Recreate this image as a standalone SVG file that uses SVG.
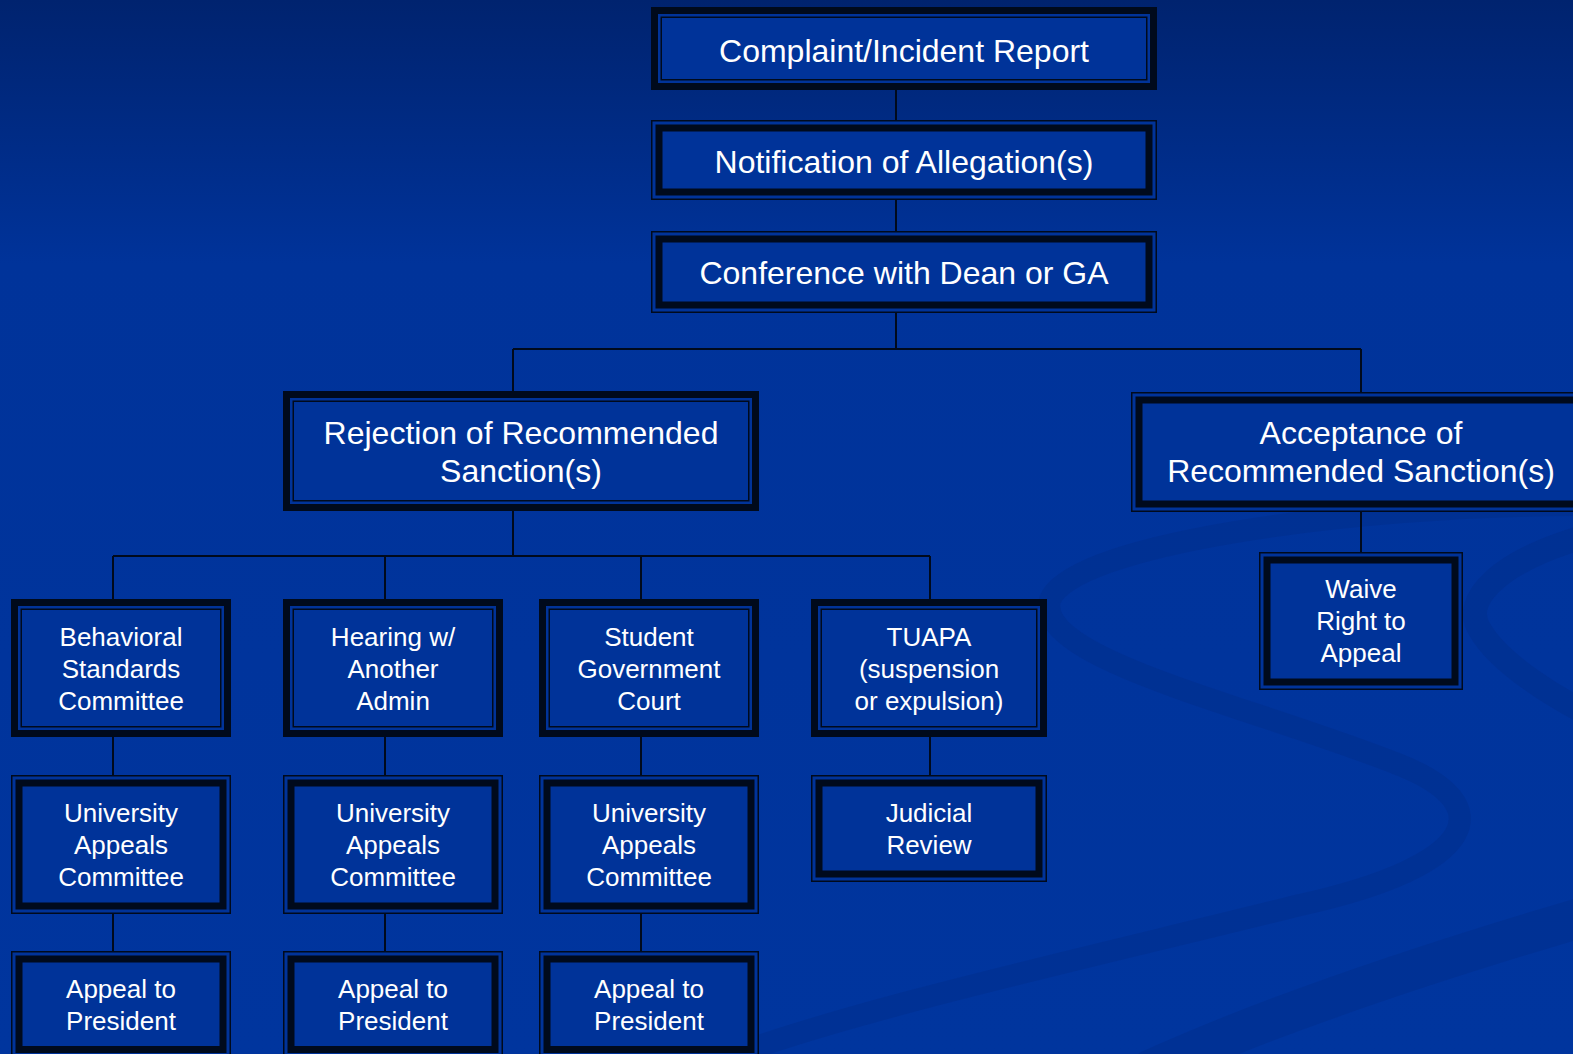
<svg xmlns="http://www.w3.org/2000/svg" width="1573" height="1054" viewBox="0 0 1573 1054">
<defs>
<linearGradient id="bg" x1="0" y1="0" x2="0" y2="1054" gradientUnits="userSpaceOnUse">
<stop offset="0" stop-color="#00236f"/>
<stop offset="0.25" stop-color="#00339a"/>
<stop offset="1" stop-color="#00359e"/>
</linearGradient>
<style>
.a1{fill:#003399;stroke:#000a1c;stroke-width:7}
.a2{fill:none;stroke:#000a1c;stroke-width:1.5}
.b1{fill:#003399;stroke:#000a1c;stroke-width:1.5}
.b2{fill:none;stroke:#000a1c;stroke-width:7}
.t{font-family:"Liberation Sans",Arial,sans-serif;fill:#ffffff;text-anchor:middle}
.big{font-size:32px}
.sm{font-size:26px}
.c{fill:none;stroke:#000a1c;stroke-width:2}
.sw{fill:none;stroke:#002c88;stroke-linecap:round;opacity:0.4}
</style>
</defs>
<rect width="1573" height="1054" fill="url(#bg)"/>
<g id="background-swoosh">
<path class="sw" stroke-width="22" d="M 1580 505 C 1350 505 1070 545 1050 600 C 1035 660 1250 705 1400 765 C 1500 805 1480 865 1300 905 C 1100 955 850 1010 720 1060"/>
<path class="sw" stroke-width="40" d="M 1590 915 C 1420 965 1260 1020 1150 1070"/>
<path class="sw" stroke-width="24" d="M 1590 535 C 1500 560 1460 600 1480 630 C 1500 665 1560 700 1590 715"/>
</g>
<g id="connectors">
<path class="c" d="M 896 90 V 120 M 896 200 V 231 M 896 313 V 349 M 513 349 H 1361 M 513 349 V 391 M 1361 349 V 392"/>
<path class="c" d="M 513 511 V 556 M 113 556 H 930 M 113 556 V 599 M 385 556 V 599 M 641 556 V 599 M 930 556 V 599"/>
<path class="c" d="M 1361 512 V 552"/>
<path class="c" d="M 113 737 V 775 M 385 737 V 775 M 641 737 V 775 M 930 737 V 775"/>
<path class="c" d="M 113 914 V 951 M 385 914 V 951 M 641 914 V 951"/>
</g>
<g id="complaint">
<rect class="a1" x="654.5" y="10.5" width="499" height="76"/>
<rect class="a2" x="661.25" y="17.25" width="485.5" height="62.5"/>
<text class="t big" x="904" y="62">Complaint/Incident Report</text>
</g>
<g id="notification">
<rect class="b1" x="651.75" y="120.75" width="504.5" height="78.5"/>
<rect class="b2" x="659" y="128" width="490" height="64"/>
<text class="t big" x="904" y="173">Notification of Allegation(s)</text>
</g>
<g id="conference">
<rect class="b1" x="651.75" y="231.75" width="504.5" height="80.5"/>
<rect class="b2" x="659" y="239" width="490" height="66"/>
<text class="t big" x="904" y="284">Conference with Dean or GA</text>
</g>
<g id="rejection">
<rect class="a1" x="286.5" y="394.5" width="469" height="113"/>
<rect class="a2" x="293.25" y="401.25" width="455.5" height="99.5"/>
<text class="t big" x="521" y="444">Rejection of Recommended</text>
<text class="t big" x="521" y="482">Sanction(s)</text>
</g>
<g id="acceptance">
<rect class="b1" x="1131.75" y="392.75" width="458.5" height="118.5"/>
<rect class="b2" x="1139" y="400" width="444" height="104"/>
<text class="t big" x="1361" y="444">Acceptance of</text>
<text class="t big" x="1361" y="482">Recommended Sanction(s)</text>
</g>
<g id="waive">
<rect class="b1" x="1259.75" y="552.75" width="202.5" height="136.5"/>
<rect class="b2" x="1267" y="560" width="188" height="122"/>
<text class="t sm" x="1361" y="598">Waive</text>
<text class="t sm" x="1361" y="630">Right to</text>
<text class="t sm" x="1361" y="662">Appeal</text>
</g>
<g id="behavioral">
<rect class="a1" x="14.5" y="602.5" width="213" height="131"/>
<rect class="a2" x="21.25" y="609.25" width="199.5" height="117.5"/>
<text class="t sm" x="121" y="646">Behavioral</text>
<text class="t sm" x="121" y="678">Standards</text>
<text class="t sm" x="121" y="710">Committee</text>
</g>
<g id="hearing">
<rect class="a1" x="286.5" y="602.5" width="213" height="131"/>
<rect class="a2" x="293.25" y="609.25" width="199.5" height="117.5"/>
<text class="t sm" x="393" y="646">Hearing w/</text>
<text class="t sm" x="393" y="678">Another</text>
<text class="t sm" x="393" y="710">Admin</text>
</g>
<g id="student">
<rect class="a1" x="542.5" y="602.5" width="213" height="131"/>
<rect class="a2" x="549.25" y="609.25" width="199.5" height="117.5"/>
<text class="t sm" x="649" y="646">Student</text>
<text class="t sm" x="649" y="678">Government</text>
<text class="t sm" x="649" y="710">Court</text>
</g>
<g id="tuapa">
<rect class="a1" x="814.5" y="602.5" width="229" height="131"/>
<rect class="a2" x="821.25" y="609.25" width="215.5" height="117.5"/>
<text class="t sm" x="929" y="646">TUAPA</text>
<text class="t sm" x="929" y="678">(suspension</text>
<text class="t sm" x="929" y="710">or expulsion)</text>
</g>
<g id="appeals1">
<rect class="b1" x="11.75" y="775.75" width="218.5" height="137.5"/>
<rect class="b2" x="19" y="783" width="204" height="123"/>
<text class="t sm" x="121" y="822">University</text>
<text class="t sm" x="121" y="854">Appeals</text>
<text class="t sm" x="121" y="886">Committee</text>
</g>
<g id="appeals2">
<rect class="b1" x="283.75" y="775.75" width="218.5" height="137.5"/>
<rect class="b2" x="291" y="783" width="204" height="123"/>
<text class="t sm" x="393" y="822">University</text>
<text class="t sm" x="393" y="854">Appeals</text>
<text class="t sm" x="393" y="886">Committee</text>
</g>
<g id="appeals3">
<rect class="b1" x="539.75" y="775.75" width="218.5" height="137.5"/>
<rect class="b2" x="547" y="783" width="204" height="123"/>
<text class="t sm" x="649" y="822">University</text>
<text class="t sm" x="649" y="854">Appeals</text>
<text class="t sm" x="649" y="886">Committee</text>
</g>
<g id="judicial">
<rect class="b1" x="811.75" y="775.75" width="234.5" height="105.5"/>
<rect class="b2" x="819" y="783" width="220" height="91"/>
<text class="t sm" x="929" y="822">Judicial</text>
<text class="t sm" x="929" y="854">Review</text>
</g>
<g id="president1">
<rect class="b1" x="11.75" y="951.75" width="218.5" height="108.5"/>
<rect class="b2" x="19" y="959" width="204" height="90.5"/>
<text class="t sm" x="121" y="998">Appeal to</text>
<text class="t sm" x="121" y="1030">President</text>
</g>
<g id="president2">
<rect class="b1" x="283.75" y="951.75" width="218.5" height="108.5"/>
<rect class="b2" x="291" y="959" width="204" height="90.5"/>
<text class="t sm" x="393" y="998">Appeal to</text>
<text class="t sm" x="393" y="1030">President</text>
</g>
<g id="president3">
<rect class="b1" x="539.75" y="951.75" width="218.5" height="108.5"/>
<rect class="b2" x="547" y="959" width="204" height="90.5"/>
<text class="t sm" x="649" y="998">Appeal to</text>
<text class="t sm" x="649" y="1030">President</text>
</g>
</svg>
